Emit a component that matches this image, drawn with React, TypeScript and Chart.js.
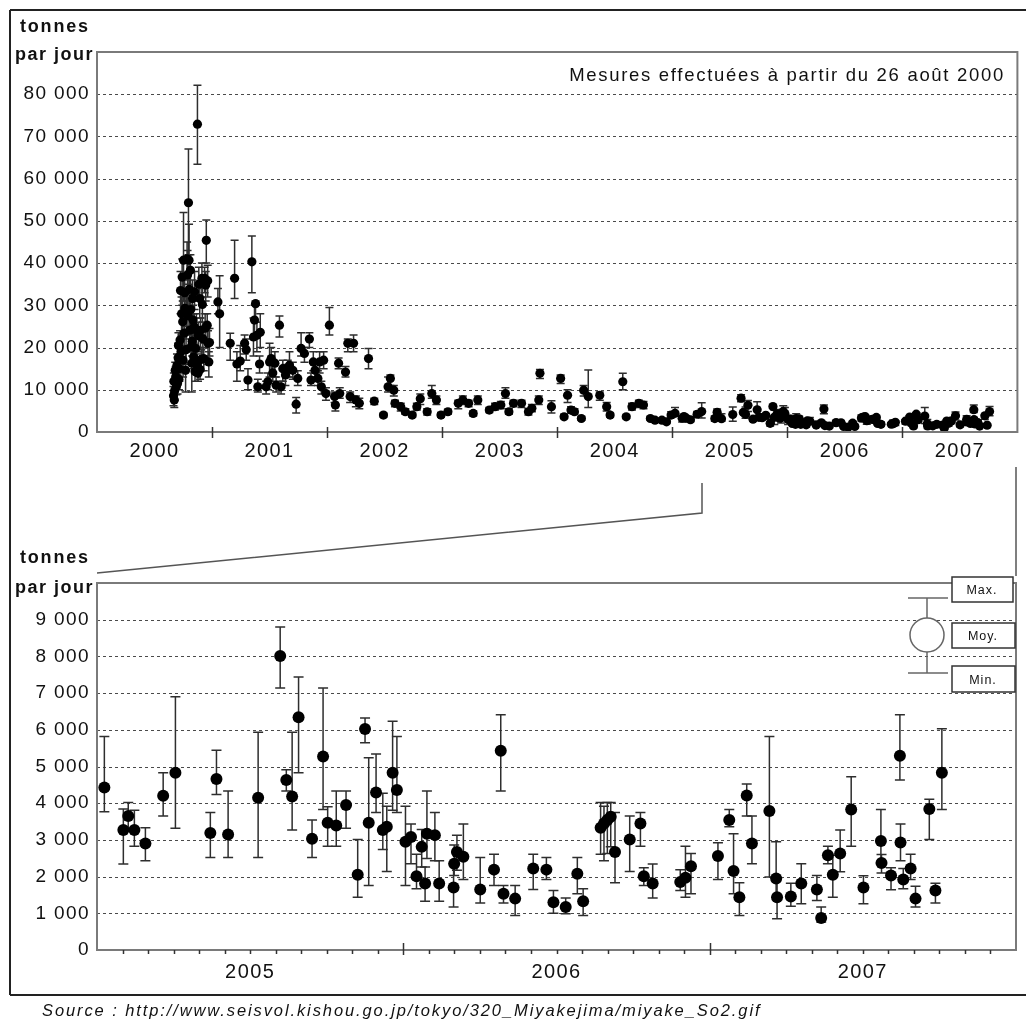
import React, { useEffect, useRef } from 'react';
import { Chart, registerables } from 'chart.js';

Chart.register(...registerables);

type Row = [number, number, number, number]; // [decimal year, mean, min, max] in tonnes/day

// ---------- top panel: 2000-2004 observations ----------
const obs2000: Row[] = [
  [2000.665, 8600, 6200, 10800], [2000.668, 12000, 9500, 14000], [2000.672, 7600, 5800, 9400],
  [2000.675, 9800, 7500, 11500], [2000.680, 14600, 11500, 16500], [2000.684, 13100, 10500, 15500],
  [2000.690, 10700, 8800, 12900], [2000.695, 15800, 13000, 18500], [2000.700, 11500, 9000, 13500],
  [2000.705, 17600, 14000, 21000], [2000.708, 20500, 17000, 23500], [2000.712, 12500, 10000, 14800],
  [2000.716, 15000, 12000, 17500], [2000.722, 21800, 18500, 24000], [2000.726, 33500, 28000, 38000],
  [2000.730, 19000, 15500, 22000], [2000.735, 28000, 23000, 32000], [2000.740, 36700, 30000, 41000],
  [2000.745, 26100, 20000, 31000], [2000.748, 17000, 13000, 20500], [2000.752, 40700, 31000, 52000],
  [2000.758, 23400, 19000, 27000], [2000.762, 33000, 29000, 37000], [2000.765, 29300, 25000, 34000],
  [2000.770, 14600, 9500, 19000], [2000.774, 19500, 16000, 23000], [2000.778, 28500, 22000, 33000],
  [2000.783, 41000, 36000, 45000], [2000.787, 37200, 30000, 43000], [2000.791, 27500, 23000, 31000],
  [2000.795, 54300, 42000, 67000], [2000.800, 40700, 35000, 49200], [2000.803, 33800, 29000, 38000],
  [2000.806, 24100, 19000, 28000], [2000.812, 38300, 33000, 42000], [2000.815, 29000, 25000, 32500],
  [2000.818, 20200, 16500, 24000], [2000.824, 16300, 9500, 21000], [2000.827, 21500, 18000, 25000],
  [2000.830, 31600, 27000, 36000], [2000.835, 26500, 22000, 30000], [2000.840, 17800, 15000, 21000],
  [2000.845, 24900, 20000, 28000], [2000.848, 33200, 29000, 38000], [2000.852, 14300, 12000, 17000],
  [2000.858, 19800, 17000, 23000], [2000.864, 24100, 20000, 28000], [2000.868, 16000, 13500, 18500],
  [2000.873, 72900, 63400, 82100], [2000.878, 13900, 12000, 16000], [2000.882, 22800, 19000, 26000],
  [2000.885, 35000, 31000, 39000], [2000.893, 31600, 27000, 35000], [2000.896, 14800, 12500, 17000],
  [2000.900, 24100, 20000, 27000], [2000.906, 17200, 14500, 19500], [2000.912, 36400, 32000, 40000],
  [2000.916, 30200, 26000, 34000], [2000.920, 22100, 18000, 26000], [2000.928, 17400, 14500, 20000],
  [2000.935, 36400, 33000, 39000], [2000.940, 24600, 21000, 28000], [2000.945, 34800, 31000, 38000],
  [2000.950, 45400, 40000, 50200], [2000.958, 25300, 21000, 28000], [2000.962, 35800, 32000, 39500],
  [2000.965, 21000, 16000, 24000], [2000.972, 16600, 13000, 19000], [2000.978, 21200, 18000, 24500],
];
const obs2001: Row[] = [
  [2001.051, 30800, 28000, 34000], [2001.066, 28000, 20000, 37000], [2001.158, 21000, 17000, 23400],
  [2001.196, 36400, 31600, 45400], [2001.216, 16100, 12000, 19000], [2001.245, 16800, 14500, 20500],
  [2001.283, 21000, 18500, 23000], [2001.297, 19500, 17000, 22000], [2001.312, 12300, 10000, 15000],
  [2001.346, 40300, 33000, 46400], [2001.360, 22500, 18000, 27000], [2001.369, 26500, 23000, 30000],
  [2001.378, 30400, 26000, 31000], [2001.390, 22900, 19000, 26000], [2001.398, 10700, 9500, 12500],
  [2001.413, 16100, 14000, 18000], [2001.419, 23600, 20000, 28000], [2001.470, 10700, 9000, 12000],
  [2001.485, 11900, 10000, 14000], [2001.500, 16600, 13000, 21000], [2001.514, 17400, 13000, 20000],
  [2001.528, 14000, 12000, 16000], [2001.546, 16300, 13000, 19000], [2001.557, 11100, 9500, 13000],
  [2001.586, 25300, 22500, 27500], [2001.600, 10700, 9000, 12000], [2001.615, 15000, 12000, 17000],
  [2001.638, 13500, 11000, 16000], [2001.658, 15000, 13000, 17000], [2001.673, 15800, 13000, 19000],
  [2001.702, 14600, 12500, 16500], [2001.731, 6600, 4500, 8200], [2001.745, 12700, 11000, 14500],
  [2001.774, 19800, 18000, 23500], [2001.803, 18600, 16500, 20000], [2001.846, 22000, 20000, 23500],
  [2001.860, 12300, 11000, 14000], [2001.880, 16600, 14500, 19000], [2001.895, 14600, 13000, 16000],
  [2001.920, 12700, 11000, 14500], [2001.935, 16600, 14000, 19000], [2001.950, 10700, 9000, 12000],
  [2001.970, 17000, 15000, 19000], [2001.990, 9100, 7500, 10500],
];
const obs2002: Row[] = [
  [2002.020, 25300, 23000, 29500], [2002.065, 8400, 7000, 9500], [2002.072, 6400, 5000, 8000],
  [2002.100, 16300, 15000, 17500], [2002.110, 9100, 8000, 10500], [2002.160, 14200, 13000, 15500],
  [2002.180, 21000, 19000, 22000], [2002.200, 8400, 7000, 9500], [2002.230, 21000, 19000, 23000],
  [2002.250, 7600, 6000, 8500], [2002.280, 6800, 5500, 8000], [2002.360, 17400, 15000, 19800],
  [2002.410, 7300, 6500, 8000], [2002.490, 4000, 3500, 4500], [2002.530, 10700, 9500, 13000],
  [2002.550, 12700, 11000, 13500], [2002.580, 9900, 8500, 11000], [2002.590, 6800, 6000, 7500],
  [2002.640, 6000, 5000, 6800], [2002.680, 4800, 4200, 5500], [2002.740, 4000, 3500, 4600],
  [2002.780, 6000, 5200, 6800], [2002.810, 7900, 6500, 9000], [2002.870, 4800, 4000, 5500],
  [2002.910, 9100, 8000, 11000], [2002.950, 7600, 6500, 8500], [2002.990, 4000, 3500, 4600],
];
const obs2003: Row[] = [
  [2003.050, 4800, 4200, 5400], [2003.140, 6800, 5500, 7500], [2003.180, 7600, 6500, 8500],
  [2003.230, 6800, 6000, 7500], [2003.270, 4400, 3800, 5000], [2003.310, 7600, 6500, 8500],
  [2003.410, 5200, 4600, 5800], [2003.460, 6000, 5200, 6800], [2003.510, 6400, 5500, 7200],
  [2003.550, 9100, 8000, 10500], [2003.580, 4800, 4200, 5500], [2003.620, 6800, 6000, 7500],
  [2003.690, 6800, 5800, 7500], [2003.750, 4800, 4000, 5500], [2003.780, 5600, 4800, 6500],
  [2003.840, 7600, 6500, 8500], [2003.850, 13900, 12700, 14800], [2003.950, 6000, 4500, 7400],
];
const obs2004: Row[] = [
  [2004.030, 12700, 11500, 13500], [2004.060, 3600, 3200, 4200], [2004.090, 8700, 7000, 10000],
  [2004.120, 5200, 4500, 6000], [2004.150, 4800, 4200, 5500], [2004.210, 3200, 2800, 3600],
  [2004.230, 9900, 8500, 11000], [2004.270, 8400, 5800, 14700], [2004.370, 8700, 7500, 9500],
  [2004.430, 6000, 5000, 7000], [2004.460, 4000, 3500, 4500], [2004.570, 11900, 10000, 13900],
  [2004.600, 3600, 3200, 4000], [2004.650, 6000, 5200, 6800], [2004.710, 6800, 5800, 7500],
  [2004.750, 6400, 5500, 7200], [2004.810, 3200, 2800, 3600], [2004.850, 2800, 2400, 3200],
  [2004.910, 2800, 2400, 3200], [2004.950, 2400, 2000, 2800], [2004.990, 4000, 3400, 4800],
];

// ---------- bottom panel (zoom): 2005-2007 observations ----------
const obs2005: Row[] = [
  [2005.024, 4430, 3770, 5820], [2005.086, 3270, 2340, 3840], [2005.102, 3650, 3270, 4020],
  [2005.122, 3270, 2830, 3810], [2005.158, 2900, 2430, 3330], [2005.216, 4200, 3650, 4830],
  [2005.256, 4830, 3320, 6900], [2005.370, 3190, 2520, 3750], [2005.390, 4660, 4240, 5440],
  [2005.428, 3150, 2520, 4330], [2005.526, 4150, 2520, 5930], [2005.598, 8010, 7140, 8800],
  [2005.618, 4630, 4330, 4910], [2005.637, 4180, 3270, 5930], [2005.658, 6340, 4830, 7440],
  [2005.702, 3030, 2520, 3540], [2005.738, 5270, 3830, 7140], [2005.753, 3470, 2830, 3900],
  [2005.781, 3390, 2830, 4330], [2005.813, 3950, 3320, 4330], [2005.851, 2050, 1440, 3010],
  [2005.875, 6020, 5650, 6320], [2005.887, 3470, 1760, 5240], [2005.911, 4290, 3750, 5340],
  [2005.933, 3270, 2740, 4270], [2005.946, 3360, 2140, 3920], [2005.965, 4830, 3810, 6230],
  [2005.979, 4360, 3750, 5820],
];
const obs2006: Row[] = [
  [2006.007, 2950, 1760, 3920], [2006.025, 3080, 2350, 3430], [2006.043, 2010, 1670, 2610],
  [2006.060, 2810, 2260, 3280], [2006.071, 1810, 1330, 2260], [2006.077, 3170, 2490, 4330],
  [2006.103, 3130, 2430, 3750], [2006.117, 1810, 1330, 2430], [2006.164, 1700, 1170, 2350],
  [2006.166, 2350, 2030, 2860], [2006.175, 2670, 2170, 3130], [2006.196, 2540, 1920, 3430],
  [2006.251, 1650, 1280, 2520], [2006.296, 2190, 1760, 2610], [2006.318, 5430, 4330, 6410],
  [2006.327, 1530, 1280, 1760], [2006.365, 1400, 940, 1760], [2006.424, 2220, 1650, 2610],
  [2006.467, 2190, 1920, 2520], [2006.490, 1300, 1000, 1620], [2006.530, 1170, 990, 1420],
  [2006.568, 2080, 1530, 2520], [2006.587, 1330, 940, 1670], [2006.644, 3330, 2610, 4020],
  [2006.655, 3450, 2430, 3920], [2006.666, 3540, 2630, 4020], [2006.677, 3630, 2810, 4020],
  [2006.691, 2670, 1830, 3750], [2006.739, 3010, 2140, 3650], [2006.774, 3450, 2830, 3750],
  [2006.785, 2010, 1760, 2240], [2006.814, 1810, 1420, 2340], [2006.904, 1850, 1620, 2190],
  [2006.921, 1970, 1440, 2830], [2006.939, 2280, 1530, 2630],
];
const obs2007: Row[] = [
  [2007.027, 2560, 1920, 2920], [2007.064, 3540, 3360, 3830], [2007.078, 2150, 1530, 3170],
  [2007.097, 1440, 940, 1830], [2007.121, 4210, 3650, 4520], [2007.138, 2900, 2350, 3650],
  [2007.195, 3790, 1990, 5820], [2007.217, 1950, 1440, 2950], [2007.220, 1440, 850, 1950],
  [2007.265, 1460, 1190, 1820], [2007.299, 1810, 1260, 2350], [2007.350, 1650, 1350, 2030],
  [2007.364, 870, 760, 1170], [2007.386, 2580, 2350, 2830], [2007.402, 2050, 1440, 2580],
  [2007.426, 2630, 2130, 3270], [2007.462, 3830, 2830, 4720], [2007.502, 1700, 1260, 2020],
  [2007.559, 2970, 2370, 3830], [2007.561, 2370, 2100, 2600], [2007.592, 2030, 1640, 2240],
  [2007.621, 5290, 4630, 6410], [2007.623, 2930, 2430, 3430], [2007.632, 1920, 1670, 2220],
  [2007.656, 2220, 1920, 2610], [2007.672, 1400, 1170, 1740], [2007.717, 3840, 3010, 4110],
  [2007.737, 1620, 1280, 1820], [2007.758, 4830, 3830, 6030],
];

// ---------- axes ----------
const topYears = [2000, 2001, 2002, 2003, 2004, 2005, 2006, 2007];
const bottomYears = [2005, 2006, 2007];
const topYMax = 90000;
const topYStep = 10000;
const bottomYMax = 10000;
const bottomYStep = 1000;

const topRows: Row[] = [...obs2000, ...obs2001, ...obs2002, ...obs2003, ...obs2004, ...obs2005, ...obs2006, ...obs2007];
const bottomRows: Row[] = [...obs2005, ...obs2006, ...obs2007];

const FONT = '"Liberation Sans", Arial, Helvetica, sans-serif';

function fmt(v: number): string {
  return String(Math.round(v)).replace(/\B(?=(\d{3})+(?!\d))/g, ' ');
}

interface DecorOpts {
  rows: Row[];
  cap: number;
  majors: number[];
  majorUp: number;
  majorDown: number;
  minors: number[];
  minorDown: number;
}

function makeDecor(o: DecorOpts) {
  return {
    id: 'decor',
    beforeDraw(chart: any) {
      chart.ctx.letterSpacing = '1.4px';
    },
    beforeDatasetsDraw(chart: any) {
      const { ctx, chartArea: a, scales } = chart;
      const x = scales.x;
      const y = scales.y;
      ctx.save();
      ctx.strokeStyle = '#4a4a4a';
      ctx.lineWidth = 1;
      ctx.setLineDash([3, 3]);
      for (const t of y.ticks) {
        if (t.value <= y.min || t.value >= y.max) continue;
        const py = Math.round(y.getPixelForValue(t.value)) + 0.5;
        ctx.beginPath();
        ctx.moveTo(a.left, py);
        ctx.lineTo(a.right, py);
        ctx.stroke();
      }
      ctx.setLineDash([]);
      ctx.strokeStyle = '#2e2e2e';
      ctx.lineWidth = 1.5;
      for (const r of o.rows) {
        const px = x.getPixelForValue(r[0]);
        const p1 = y.getPixelForValue(r[2]);
        const p2 = y.getPixelForValue(r[3]);
        ctx.beginPath();
        ctx.moveTo(px, p1);
        ctx.lineTo(px, p2);
        ctx.moveTo(px - o.cap, p1);
        ctx.lineTo(px + o.cap, p1);
        ctx.moveTo(px - o.cap, p2);
        ctx.lineTo(px + o.cap, p2);
        ctx.stroke();
      }
      ctx.restore();
    },
    afterDraw(chart: any) {
      const { ctx, chartArea: a, scales } = chart;
      const x = scales.x;
      ctx.save();
      ctx.strokeStyle = '#7a7a7a';
      ctx.lineWidth = 2;
      ctx.strokeRect(a.left, a.top, a.right - a.left, a.bottom - a.top);
      ctx.strokeStyle = '#333';
      ctx.lineWidth = 1.5;
      for (const v of o.minors) {
        const px = Math.round(x.getPixelForValue(v)) + 0.5;
        ctx.beginPath();
        ctx.moveTo(px, a.bottom);
        ctx.lineTo(px, a.bottom + o.minorDown);
        ctx.stroke();
      }
      for (const v of o.majors) {
        const px = Math.round(x.getPixelForValue(v)) + 0.5;
        ctx.beginPath();
        ctx.moveTo(px, a.bottom - o.majorUp);
        ctx.lineTo(px, a.bottom + o.majorDown);
        ctx.stroke();
      }
      ctx.restore();
    },
  };
}

interface PanelSpec {
  rows: Row[];
  years: number[];
  yMax: number;
  yStep: number;
  radius: number;
  cap: number;
  padTop: number;
  padRight: number;
  axisH: number;
  labelPad: number;
  minors: number[];
  majors: number[];
  majorUp: number;
  majorDown: number;
  minorDown: number;
}

function buildConfig(p: PanelSpec): any {
  const xMin = p.years[0];
  const xMax = p.years[p.years.length - 1] + 1;
  return {
    type: 'scatter',
    data: {
      datasets: [
        {
          data: p.rows.map((r) => ({ x: r[0], y: r[1] })),
          backgroundColor: '#000',
          borderColor: '#000',
          pointRadius: p.radius,
          pointBorderWidth: 0,
          pointHoverRadius: p.radius,
        },
      ],
    },
    options: {
      animation: false,
      responsive: false,
      events: [],
      layout: { padding: { top: p.padTop, right: p.padRight, left: 0, bottom: 0 } },
      plugins: { legend: { display: false }, tooltip: { enabled: false }, title: { display: false } },
      scales: {
        x: {
          type: 'linear',
          min: xMin,
          max: xMax,
          grid: { display: false, drawTicks: false },
          border: { display: false },
          afterBuildTicks: (s: any) => {
            s.ticks = p.years.map((yv) => ({ value: yv + 0.5 }));
          },
          afterFit: (s: any) => {
            s.height = p.axisH;
          },
          ticks: {
            autoSkip: false,
            maxRotation: 0,
            padding: p.labelPad,
            color: '#111',
            font: { family: FONT, size: 20 },
            callback: (v: any) => String(Math.floor(Number(v))),
          },
        },
        y: {
          type: 'linear',
          min: 0,
          max: p.yMax,
          grid: { display: false, drawTicks: false },
          border: { display: false },
          afterFit: (s: any) => {
            s.width = 87;
          },
          ticks: {
            stepSize: p.yStep,
            padding: 7,
            color: '#111',
            font: { family: FONT, size: 19 },
            callback: (v: any) => (Number(v) >= p.yMax ? '' : fmt(Number(v))),
          },
        },
      },
    },
    plugins: [
      makeDecor({
        rows: p.rows,
        cap: p.cap,
        majors: p.majors,
        majorUp: p.majorUp,
        majorDown: p.majorDown,
        minors: p.minors,
        minorDown: p.minorDown,
      }),
    ],
  };
}

function Panel({ spec, left, top, width, height }: { spec: PanelSpec; left: number; top: number; width: number; height: number }) {
  const ref = useRef<HTMLCanvasElement | null>(null);
  useEffect(() => {
    if (!ref.current) return;
    const chart = new Chart(ref.current, buildConfig(spec));
    return () => chart.destroy();
  }, []);
  return (
    <canvas
      ref={ref}
      width={width}
      height={height}
      style={{ position: 'absolute', left, top, width, height, zIndex: 1 }}
    />
  );
}

const topSpec: PanelSpec = {
  rows: topRows,
  years: topYears,
  yMax: topYMax,
  yStep: topYStep,
  radius: 4.6,
  cap: 4,
  padTop: 22,
  padRight: 2,
  axisH: 58,
  labelPad: 7,
  minors: [],
  majors: topYears.slice(1),
  majorUp: 5,
  majorDown: 6,
  minorDown: 0,
};

const bottomMonths: number[] = [];
for (let yv = 2005; yv < 2008; yv++) for (let m = 1; m < 12; m++) bottomMonths.push(yv + m / 12);

const bottomSpec: PanelSpec = {
  rows: bottomRows,
  years: bottomYears,
  yMax: bottomYMax,
  yStep: bottomYStep,
  radius: 6,
  cap: 5,
  padTop: 23,
  padRight: 6,
  axisH: 40,
  labelPad: 10,
  minors: bottomMonths,
  majors: [2006, 2007],
  majorUp: 7,
  majorDown: 5,
  minorDown: 4,
};

const textBase: React.CSSProperties = {
  position: 'absolute',
  fontFamily: FONT,
  color: '#111',
  whiteSpace: 'nowrap',
  lineHeight: '20px',
  zIndex: 3,
};

export default function App() {
  return (
    <div
      style={{
        position: 'absolute',
        left: 0,
        top: 0,
        width: 1026,
        height: 1023,
        background: '#fff',
        overflow: 'hidden',
      }}
    >
      <Panel spec={topSpec} left={10} top={30} width={1012} height={460} />
      <Panel spec={bottomSpec} left={10} top={560} width={1012} height={430} />

      <svg
        width={1026}
        height={1023}
        style={{ position: 'absolute', left: 0, top: 0, zIndex: 2, pointerEvents: 'none' }}
      >
        <g stroke="#222" strokeWidth={2} fill="none">
          <line x1={10} y1={10} x2={1026} y2={10} />
          <line x1={10} y1={10} x2={10} y2={995} />
          <line x1={10} y1={995} x2={1026} y2={995} />
        </g>
        <g stroke="#555" strokeWidth={1.5} fill="none">
          <polyline points="702,483 702,513 97,573" />
          <line x1={1016} y1={467} x2={1016} y2={576} />
        </g>
        <g stroke="#666" strokeWidth={1.5}>
          <line x1={908} y1={598} x2={948} y2={598} />
          <line x1={927} y1={598} x2={927} y2={618} />
          <circle cx={927} cy={635} r={17} fill="#fff" />
          <line x1={927} y1={652} x2={927} y2={673} />
          <line x1={908} y1={673} x2={948} y2={673} />
        </g>
        <g stroke="#333" strokeWidth={1.5} fill="#fff">
          <rect x={952} y={577} width={61} height={25} />
          <rect x={952} y={623} width={63} height={25} />
          <rect x={952} y={666} width={63} height={26} />
        </g>
        <g fontFamily={FONT} fontSize={12.5} fill="#111" textAnchor="middle" style={{ letterSpacing: '1px' }}>
          <text x={982} y={594}>Max.</text>
          <text x={983} y={640}>Moy.</text>
          <text x={983} y={684}>Min.</text>
        </g>
      </svg>

      <div style={{ ...textBase, left: 20, top: 16, fontWeight: 'bold', fontSize: 18, letterSpacing: '1.8px' }}>tonnes</div>
      <div style={{ ...textBase, left: 15, top: 44, fontWeight: 'bold', fontSize: 18, letterSpacing: '1.5px' }}>par jour</div>
      <div style={{ ...textBase, left: 20, top: 547, fontWeight: 'bold', fontSize: 18, letterSpacing: '1.8px' }}>tonnes</div>
      <div style={{ ...textBase, left: 15, top: 577, fontWeight: 'bold', fontSize: 18, letterSpacing: '1.5px' }}>par jour</div>
      <div
        style={{
          ...textBase,
          left: 505,
          width: 500,
          top: 65,
          textAlign: 'right',
          fontSize: 18.5,
          letterSpacing: '1.7px',
        }}
      >
        Mesures effectuées à partir du 26 août 2000
      </div>
      <div style={{ ...textBase, left: 42, top: 1001, fontSize: 16.5, fontStyle: 'italic', letterSpacing: '1.9px', lineHeight: '18px' }}>
        Source : http://www.seisvol.kishou.go.jp/tokyo/320_Miyakejima/miyake_So2.gif
      </div>
    </div>
  );
}
